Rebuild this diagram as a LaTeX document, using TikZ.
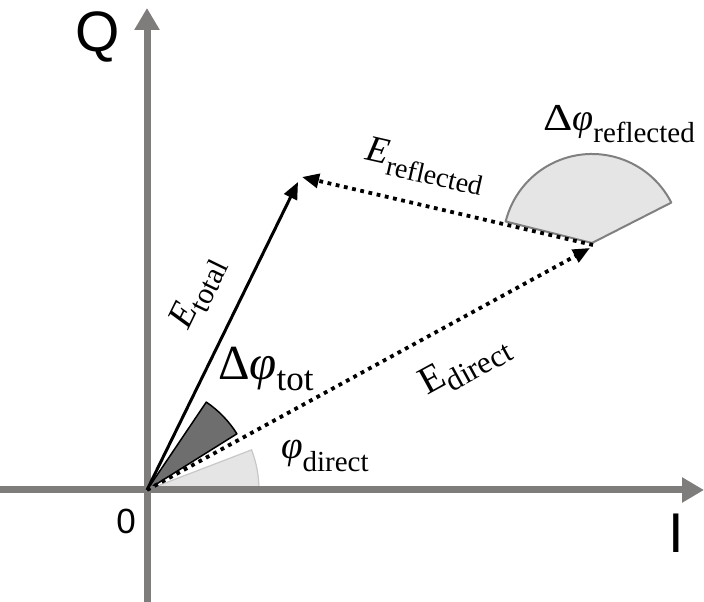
\documentclass[tikz,border=0pt]{standalone}
\usepackage{graphicx}
\usepackage{fontspec}
\setmainfont{Liberation Serif}
\newfontfamily\axisfont{Liberation Sans}
\usetikzlibrary{arrows.meta}
\definecolor{axisgray}{RGB}{127,124,124}
\definecolor{wedgelight}{RGB}{229,229,229}
\definecolor{wedgeline}{RGB}{128,128,128}
\definecolor{wedgedark}{RGB}{110,110,110}
\definecolor{wedgepale}{RGB}{200,200,200}
\newcommand\fsz[1]{\fontsize{#1}{#1}\selectfont}
\newcommand\lowsub[3]{\raisebox{-#1pt}{\fsz{#2}#3}}
\begin{document}
\begin{tikzpicture}[x=1pt,y=1pt,
  axisline/.style={line width=7pt, color=axisgray, -{Triangle[length=22pt,width=24pt]}},
  vecsolid/.style={line width=3pt, -{Triangle[length=17pt,width=14pt]}},
  vecdotted/.style={line width=3.8pt, line cap=butt, dash pattern=on 3.8pt off 4.6pt, -{Triangle[length=17pt,width=14pt]}},
  lab/.style={inner sep=0pt, outer sep=0pt}
]
\useasboundingbox (0,0) rectangle (704,602);
\coordinate (O) at (147,112);
\coordinate (Qend) at (147,594);
\coordinate (Qstart) at (147,0);
\coordinate (Istart) at (0,112);
\coordinate (Iend) at (704,112);
\coordinate (Ttot) at (298,420);
\coordinate (Tref) at (302,425);
\coordinate (D) at (590,354);
\coordinate (R) at (593,357);
\coordinate (W) at (592,359);
% wedges
\filldraw[fill=wedgelight, draw=wedgeline, line width=2pt, line join=round] (W) -- ++(27:89pt) arc[start angle=27,end angle=166,radius=89pt] -- cycle;
\filldraw[fill=wedgelight, draw=wedgepale, line width=1.2pt] (O) -- ++(0:112pt) arc[start angle=0,end angle=21,radius=112pt] -- cycle;
\filldraw[fill=wedgedark, draw=black, line width=1.5pt, line join=round] (O) -- ++(32:106pt) arc[start angle=32,end angle=56,radius=106pt] -- cycle;
% axes
\draw[axisline] (Istart) -- (Iend);
\draw[axisline] (Qstart) -- (Qend);
% vectors
\draw[vecsolid] (O) -- (Ttot);
\draw[vecdotted] (O) -- (D);
\draw[vecdotted] (R) -- (Tref);
% labels
\node[lab] (Qlab) at (98,565) {\axisfont\fsz{57}Q};
\node[lab] (Ilab) at (676,69) {\axisfont\fsz{56}I};
\node[lab] (zero) at (126,81) {\axisfont\fsz{35}0};
\node[lab, anchor=base west] (dref) at (543,471) {\fsz{38}\scalebox{1.2}[1]{Δ}\textit{φ}\lowsub{12}{29}{reflected}};
\node[lab, anchor=base west] (dtot) at (218,222) {\fsz{49}Δ\textit{φ}\lowsub{11}{35}{tot}};
\node[lab, anchor=base west] (pdir) at (281,143) {\fsz{39}\textit{φ}\lowsub{13}{29}{direct}};
\node[lab, rotate=-12.8] (eref) at (425,436) {\fsz{37}\textit{E}\lowsub{10}{28}{reflected}};
\node[lab, rotate=64] (etot) at (198,309) {\fsz{37}\textit{E}\lowsub{9}{30}{total}};
\node[lab, rotate=28.7] (edir) at (465,236) {\fsz{39}E\lowsub{9}{31}{direct}};
\end{tikzpicture}
\end{document}
